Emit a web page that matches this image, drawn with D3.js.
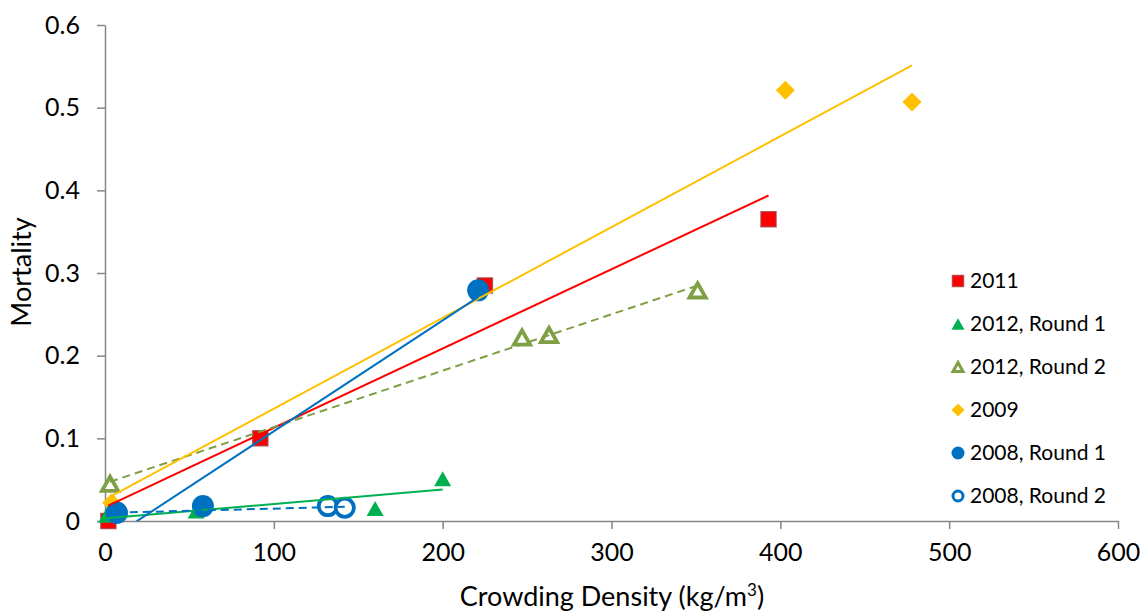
<!DOCTYPE html>
<html>
<head>
<meta charset="utf-8">
<script src="https://cdn.jsdelivr.net/npm/d3@7"></script>
<style>
  html, body { margin: 0; padding: 0; background: #fff; }
  svg { display: block; }
  text { font-family: Lato, "Open Sans", sans-serif; fill: #000; }
</style>
</head>
<body>
<svg id="chart" width="1146" height="611"></svg>
<script>
// Crowding density (kg/m^3) vs mortality, by trial
const seriesNames = ["2011", "2012, Round 1", "2012, Round 2", "2009", "2008, Round 1", "2008, Round 2"];

const x2011 = [2, 92, 225, 393];
const y2011 = [0, 0.1, 0.285, 0.365];

const x2012r1 = [1, 54, 160, 200];
const y2012r1 = [0.007, 0.012, 0.015, 0.051];

const x2012r2 = [3, 247, 263, 351];
const y2012r2 = [0.045, 0.222, 0.225, 0.279];

const x2009 = [4, 403, 478];
const y2009 = [0.022, 0.521, 0.507];

const x2008r1 = [7, 58, 221];
const y2008r1 = [0.01, 0.018, 0.279];

const x2008r2 = [7, 132, 142];
const y2008r2 = [0.01, 0.018, 0.016];

const xTicks = [0, 100, 200, 300, 400, 500, 600];
const yTicks = [0, 0.1, 0.2, 0.3, 0.4, 0.5, 0.6];

const xTitle = "Crowding Density (kg/m";
const yTitle = "Mortality";

// visual style per series: marker shape, colour, open/filled, trendline dash
const styles = [
  { shape: "square",   color: "#FF0000", open: false, dash: null },
  { shape: "triangle", color: "#00B050", open: false, dash: null },
  { shape: "triangle", color: "#7F9F45", open: true,  dash: "8,5" },
  { shape: "diamond",  color: "#FFC000", open: false, dash: null },
  { shape: "circle",   color: "#0070C0", open: false, dash: null },
  { shape: "circle",   color: "#0070C0", open: true,  dash: "8,5" }
];

// marker stacking order (2008 Round 2 sits beneath Round 1)
const drawOrder = [0, 1, 2, 3, 5, 4];

const xs = [x2011, x2012r1, x2012r2, x2009, x2008r1, x2008r2];
const ys = [y2011, y2012r1, y2012r2, y2009, y2008r1, y2008r2];

const series = seriesNames.map((name, i) => ({
  name,
  points: xs[i].map((x, j) => ({ x, y: ys[i][j] })),
  style: styles[i]
}));

const svg = d3.select("#chart");
const x = d3.scaleLinear().domain([0, 600]).range([105, 1118]);
const y = d3.scaleLinear().domain([0, 0.6]).range([521, 25]);

const axisColor = "#868686";
const tickFont = 25;

// y axis
const yAxis = svg.append("g")
  .attr("transform", `translate(${x(0)},0)`)
  .call(d3.axisLeft(y).tickValues(yTicks).tickFormat(d => d === 0 ? "0" : d3.format(".1f")(d))
    .tickSize(8).tickSizeOuter(0).tickPadding(17));
yAxis.select(".domain").attr("stroke", axisColor).attr("stroke-width", 1.5);
yAxis.selectAll(".tick line").attr("stroke", axisColor).attr("stroke-width", 1.5);
yAxis.selectAll(".tick text").attr("font-size", tickFont).attr("font-family", "Lato, sans-serif").attr("fill", "#000");

// x axis
const xAxis = svg.append("g")
  .attr("transform", `translate(0,${y(0)})`)
  .call(d3.axisBottom(x).tickValues(xTicks).tickFormat(d3.format("d"))
    .tickSize(8).tickSizeOuter(0).tickPadding(14));
xAxis.select(".domain").attr("stroke", axisColor).attr("stroke-width", 1.5);
xAxis.selectAll(".tick line").attr("stroke", axisColor).attr("stroke-width", 1.5);
xAxis.selectAll(".tick text").attr("font-size", tickFont).attr("font-family", "Lato, sans-serif").attr("fill", "#000");

// axis titles
const xt = svg.append("text")
  .attr("x", 612).attr("y", 606)
  .attr("text-anchor", "middle")
  .attr("font-size", 27);
xt.append("tspan").text(xTitle);
xt.append("tspan").attr("font-size", 17).attr("dy", -10).text("3");
xt.append("tspan").attr("dy", 10).text(")");

svg.append("text")
  .attr("transform", "translate(31,272) rotate(-90)")
  .attr("text-anchor", "middle")
  .attr("font-size", 27)
  .text(yTitle);

// marker outlines centred on the data point
function markerPath(shape, size) {
  const h = size / 2;
  if (shape === "square") return `M${-h},${-h}H${h}V${h}H${-h}Z`;
  if (shape === "triangle") {
    const th = size * 0.88;
    return `M0,${-th / 2}L${h},${th / 2}L${-h},${th / 2}Z`;
  }
  if (shape === "diamond") return `M0,${-h}L${h},0L0,${h}L${-h},0Z`;
  return d3.symbol().type(d3.symbolCircle).size(Math.PI * h * h)();
}

function drawMarker(g, st, px, py, size, sw) {
  const p = g.append("path")
    .attr("transform", `translate(${px},${py})`)
    .attr("d", markerPath(st.shape, st.open ? size - sw : size));
  if (st.open) {
    p.attr("fill", "#fff").attr("stroke", st.color).attr("stroke-width", sw);
  } else {
    p.attr("fill", st.color);
    if (st.shape === "square") p.attr("stroke", "#A8363A").attr("stroke-opacity", 0.8).attr("stroke-width", 1.5);
  }
}

function sizeFor(st) {
  if (st.shape === "square") return 15;
  if (st.shape === "triangle") return st.open ? 20 : 17;
  if (st.shape === "diamond") return 19;
  return 22;
}

// markers
const markers = svg.append("g");
drawOrder.forEach(i => {
  const s = series[i];
  s.points.forEach(p => drawMarker(markers, s.style, x(p.x), y(p.y), sizeFor(s.style), 3.8));
});

// least-squares trendlines, clipped to the plot area
svg.append("clipPath").attr("id", "plot-clip")
  .append("rect").attr("x", x(0)).attr("y", y(0.6)).attr("width", x(600) - x(0)).attr("height", y(0) - y(0.6));

const trend = svg.append("g").attr("clip-path", "url(#plot-clip)");
series.forEach(s => {
  const mx = d3.mean(s.points, p => p.x);
  const my = d3.mean(s.points, p => p.y);
  const sxy = d3.sum(s.points, p => (p.x - mx) * (p.y - my));
  const sxx = d3.sum(s.points, p => (p.x - mx) * (p.x - mx));
  const slope = sxy / sxx;
  const icpt = my - slope * mx;
  const [x0, x1] = d3.extent(s.points, p => p.x);
  trend.append("line")
    .attr("x1", x(x0)).attr("y1", y(icpt + slope * x0))
    .attr("x2", x(x1)).attr("y2", y(icpt + slope * x1))
    .attr("stroke", s.style.color)
    .attr("stroke-width", 2)
    .attr("stroke-dasharray", s.style.dash);
});

// legend
const legend = svg.append("g");
const legendSize = { square: 11, triangle: 13, diamond: 13, circle: 13 };
series.forEach((s, i) => {
  const cy = 281 + i * 43;
  drawMarker(legend, s.style, 958, cy, legendSize[s.style.shape], 3);
  legend.append("text")
    .attr("x", 970).attr("y", cy)
    .attr("dy", "0.35em")
    .attr("font-size", 21)
    .text(s.name);
});
</script>
</body>
</html>
